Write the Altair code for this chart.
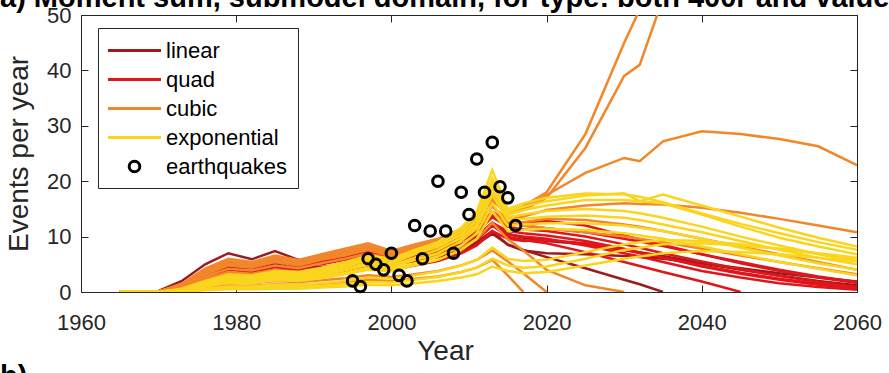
import altair as alt
import pandas as pd

FONT = "Liberation Sans"
AXC = "#262626"

YEARS = [1965, 1970, 1973, 1976, 1979, 1982, 1985, 1988, 1991, 1994, 1997, 2000, 2003,
         2006, 2009, 2011, 2013, 2015, 2017, 2020, 2025, 2030, 2032, 2035, 2040, 2045,
         2050, 2055, 2060]

LINEAR = [
    [0, 0.2, 2.0, 5.0, 7.0, 5.9, 7.4, 5.8, 5.4, 5.8, 6.2, 5.5, 6.0, 6.8, 7.8, 9.0, 11.0, 8.5, 7.5, 7.0, 6.8, 6.5, 6.3, 6.0, 5.2, 4.3, 3.4, 2.6, 1.9],
    [0, 0.1, 1.2, 3.5, 5.2, 4.6, 5.6, 4.6, 4.5, 5.0, 5.6, 5.0, 5.6, 6.3, 7.5, 8.6, 10.5, 8.6, 7.6, 6.3, 4.3, 2.2, 1.4, 0],
    [0, 0.1, 1.0, 3.0, 4.5, 4.0, 5.0, 4.2, 4.4, 5.2, 6.0, 5.4, 6.2, 7.2, 8.6, 10.0, 12.5, 10.5, 9.8, 9.2, 8.6, 7.6, 7.2, 6.5, 5.2, 4.0, 3.0, 2.0, 1.2],
]
QUAD = [
    [0, 0.1, 1.3, 3.8, 5.5, 5.0, 6.0, 5.2, 5.6, 6.4, 7.2, 6.2, 7.2, 8.2, 10.0, 11.5, 14.5, 12.5, 12.0, 11.5, 10.8, 9.6, 9.1, 8.3, 6.8, 5.4, 4.0, 2.8, 1.8],
    [0, 0.1, 1.0, 3.2, 4.8, 4.4, 5.4, 4.8, 5.0, 5.8, 6.6, 5.8, 6.6, 7.6, 9.2, 10.8, 13.5, 11.8, 11.3, 11.0, 10.0, 8.6, 8.0, 7.0, 5.5, 4.1, 2.9, 1.8, 0.9],
    [0, 0.1, 0.8, 2.6, 4.0, 3.6, 4.5, 4.0, 4.4, 5.0, 5.8, 5.2, 6.0, 7.0, 8.5, 10.0, 12.5, 11.0, 10.6, 10.2, 9.2, 7.8, 7.1, 6.2, 4.6, 3.3, 2.2, 1.3, 0.6],
    [0, 0.1, 0.7, 2.2, 3.4, 3.2, 4.0, 3.6, 4.0, 4.6, 5.4, 4.8, 5.6, 6.5, 8.0, 9.4, 12.0, 10.4, 10.0, 9.6, 8.4, 7.0, 6.4, 5.4, 3.8, 2.6, 1.6, 0.9, 0.4],
    [0, 0.1, 0.9, 2.8, 4.2, 3.8, 4.6, 4.0, 4.2, 4.8, 5.6, 5.0, 5.8, 6.8, 8.2, 9.6, 12.0, 10.0, 9.4, 8.8, 7.2, 5.4, 4.7, 3.6, 1.9, 0],
    [0, 0.1, 0.5, 1.6, 2.6, 2.4, 3.0, 2.8, 3.2, 3.8, 4.5, 4.0, 4.8, 5.6, 7.0, 8.4, 11.0, 9.6, 9.2, 9.4, 8.8, 7.6, 7.0, 6.2, 4.8, 3.5, 2.4, 1.5, 0.8],
    [0, 0.1, 1.1, 3.4, 5.0, 4.6, 5.6, 5.0, 5.4, 6.2, 7.0, 6.0, 7.0, 8.0, 9.8, 11.2, 14.0, 12.0, 12.5, 12.8, 12.0, 10.2, 9.5, 8.5, 6.8, 5.2, 3.8, 2.6, 1.6],
]
CUBIC = [
    [0, 0.1, 1.5, 4.2, 6.0, 5.4, 6.6, 5.8, 6.8, 7.8, 8.8, 7.4, 8.6, 9.6, 11.4, 13.4, 17.5, 14.5, 15.5, 18.0, 28.5, 45.0, 51.0, 62.0],
    [0, 0.1, 1.3, 3.8, 5.6, 5.0, 6.2, 5.5, 6.5, 7.4, 8.4, 7.0, 8.2, 9.2, 11.0, 13.0, 17.0, 14.0, 14.8, 17.0, 26.0, 39.0, 41.0, 53.0],
    [0, 0.1, 1.2, 3.6, 5.2, 4.8, 5.8, 5.2, 6.2, 7.2, 8.2, 6.8, 8.0, 9.0, 10.8, 12.8, 16.5, 14.0, 15.0, 17.5, 21.5, 24.2, 23.6, 27.2, 29.0, 28.5, 27.6, 26.3, 22.9],
    [0, 0.1, 1.0, 3.2, 4.8, 4.4, 5.4, 4.8, 5.8, 6.6, 7.6, 6.4, 7.4, 8.4, 10.2, 12.0, 15.5, 13.0, 13.6, 14.8, 15.6, 16.0, 15.9, 15.8, 15.2, 14.3, 13.2, 12.0, 10.8],
    [0, 0, 0.3, 0.8, 1.2, 1.1, 1.4, 1.3, 1.5, 1.8, 2.2, 2.0, 2.4, 2.8, 3.6, 4.4, 5.8, 3.0, 0],
    [0, 0, 0.4, 1.2, 1.8, 1.6, 2.0, 1.8, 2.1, 2.5, 3.0, 2.7, 3.2, 3.8, 4.8, 5.8, 7.5, 5.5, 3.4, 0],
    [0, 0.1, 0.8, 2.4, 3.6, 3.3, 4.0, 3.6, 4.2, 4.9, 5.6, 5.0, 5.8, 6.6, 8.0, 9.5, 12.5, 9.5, 7.5, 4.0, 1.2, 0],
    [0, 0.1, 1.1, 3.4, 5.0, 4.6, 5.6, 5.0, 6.0, 7.0, 8.0, 6.6, 7.6, 8.8, 10.4, 12.2, 15.5, 12.5, 12.0, 11.5, 10.8, 10.0, 9.6, 9.0, 7.8, 6.6, 5.4, 4.3, 3.2],
    [0, 0.1, 0.9, 2.8, 4.2, 3.9, 4.8, 4.3, 5.2, 6.0, 7.0, 5.9, 6.9, 8.0, 9.6, 11.2, 14.5, 12.0, 12.6, 13.2, 13.0, 12.2, 11.8, 11.0, 9.6, 8.2, 6.8, 5.4, 4.0],
]
EXPO = [
    [0, 0, 0.6, 2.0, 3.2, 3.0, 3.8, 3.6, 4.4, 5.4, 6.6, 6.0, 7.6, 9.0, 11.6, 14.5, 22.0, 15.0, 16.0, 17.0, 17.8, 17.6, 17.2, 16.2, 14.2, 12.3, 10.6, 9.0, 7.6],
    [0, 0, 0.5, 1.8, 2.9, 2.8, 3.5, 3.3, 4.1, 5.0, 6.2, 5.6, 7.2, 8.6, 11.0, 13.8, 20.5, 14.5, 15.4, 16.4, 17.4, 17.8, 16.4, 17.6, 15.6, 13.6, 11.6, 9.8, 8.2],
    [0, 0, 0.5, 1.6, 2.6, 2.5, 3.2, 3.0, 3.8, 4.6, 5.8, 5.2, 6.8, 8.2, 10.4, 13.0, 19.5, 14.0, 14.8, 15.6, 16.6, 16.6, 16.4, 16.0, 14.0, 11.8, 9.8, 8.2, 6.8],
    [0, 0, 0.4, 1.4, 2.3, 2.2, 2.9, 2.7, 3.4, 4.2, 5.3, 4.8, 6.2, 7.6, 9.8, 12.2, 18.5, 13.5, 14.0, 14.6, 15.0, 14.6, 14.2, 13.4, 11.8, 10.0, 8.4, 6.8, 5.6],
    [0, 0, 0.4, 1.3, 2.1, 2.0, 2.6, 2.5, 3.1, 3.9, 4.9, 4.4, 5.8, 7.0, 9.2, 11.6, 17.5, 13.0, 13.2, 13.6, 13.8, 13.4, 13.0, 12.2, 10.8, 9.2, 7.6, 6.2, 5.0],
    [0, 0, 0.3, 1.1, 1.8, 1.8, 2.3, 2.2, 2.8, 3.5, 4.4, 4.0, 5.2, 6.4, 8.4, 10.6, 16.0, 12.0, 12.2, 12.4, 12.4, 12.0, 11.6, 11.0, 9.6, 8.0, 6.6, 5.2, 4.0],
    [0, 0, 0.3, 1.0, 1.6, 1.6, 2.1, 2.0, 2.5, 3.2, 4.0, 3.7, 4.8, 5.8, 7.6, 9.6, 14.5, 11.0, 11.2, 11.4, 11.2, 10.6, 10.2, 9.6, 8.2, 6.8, 5.4, 4.2, 3.0],
    [0, 0, 0.2, 0.6, 1.0, 1.0, 1.3, 1.3, 1.6, 2.0, 2.6, 2.4, 3.0, 3.7, 4.8, 5.8, 8.0, 6.0, 5.6, 5.8, 7.2, 8.6, 9.0, 9.4, 9.2, 8.6, 7.8, 6.9, 6.0],
    [0, 0, 0.1, 0.4, 0.7, 0.7, 0.9, 0.9, 1.1, 1.4, 1.8, 1.7, 2.2, 2.7, 3.6, 4.4, 6.0, 4.8, 4.4, 4.6, 6.0, 7.6, 8.0, 8.6, 8.8, 8.4, 7.8, 7.0, 6.2],
    [0, 0, 0.1, 0.3, 0.5, 0.5, 0.6, 0.6, 0.8, 1.0, 1.3, 1.2, 1.6, 2.0, 2.6, 3.2, 4.6, 3.8, 3.4, 3.6, 4.8, 6.0, 6.4, 7.0, 7.4, 7.2, 6.8, 6.2, 5.5],
]

EQ_YEARS = [1995, 1996, 1997, 1998, 1999, 2000, 2001, 2002, 2003, 2004, 2005,
            2006, 2007, 2008, 2009, 2010, 2011, 2012, 2013, 2014, 2015, 2016]
EQ_COUNTS = [2, 1, 6, 5, 4, 7, 3, 2, 12, 6, 11, 20, 11, 7, 18, 14, 24, 18, 27, 19, 17, 12]

TYPES = ["linear", "quad", "cubic", "exponential", "earthquakes"]
COLORS = ["#9B1B1E", "#E0161B", "#F2862A", "#FAD51E", "#000000"]
X_TICKS = [1960, 1980, 2000, 2020, 2040, 2060]
Y_TICKS = [0, 10, 20, 30, 40, 50]
TITLE_A = "a)  Moment sum, submodel domain, for type: both 400r and value"
TITLE_B = "b)"

LINE_PATH = "M-2.5,0H2.5"
CIRCLE_PATH = "M-0.5,0A0.5,0.5,0,1,0,0.5,0A0.5,0.5,0,1,0,-0.5,0Z"
SYM = 450

rows = []
cid = 0
for tname, group in [("linear", LINEAR), ("quad", QUAD), ("cubic", CUBIC), ("exponential", EXPO)]:
    for curve in group:
        for yr, v in zip(YEARS, curve):
            rows.append({"year": yr, "rate": v, "type": tname, "curve": cid})
        cid += 1
lines_df = pd.DataFrame(rows)
eq_df = pd.DataFrame({"year": EQ_YEARS, "count": EQ_COUNTS, "type": "earthquakes"})

xs = alt.Scale(domain=[1960, 2060], nice=False, zero=False)
ys = alt.Scale(domain=[0, 50], nice=False)
color_scale = alt.Scale(domain=TYPES, range=COLORS)
shape_scale = alt.Scale(domain=TYPES, range=[LINE_PATH] * 4 + [CIRCLE_PATH])

legend = alt.Legend(title=None, orient="none", legendX=17, legendY=13, direction="vertical",
                    strokeColor=AXC, fillColor="white", padding=10, labelFontSize=22,
                    labelFont=FONT, labelColor="black", symbolStrokeWidth=3, symbolSize=SYM,
                    rowPadding=5, symbolOffset=14, labelOffset=19, cornerRadius=0)

x_main = alt.Axis(values=X_TICKS, format="d", labelFontSize=22, labelPadding=20, ticks=False,
                  tickSize=0, domain=False, grid=False, title="Year", titleFontSize=28,
                  titleFontWeight="normal", titlePadding=4, titleX=364, titleAnchor="start",
                  titleAlign="center", labelColor=AXC, titleColor=AXC,
                  labelFont=FONT, titleFont=FONT, labelFlush=False, labelOverlap=False, orient="bottom")
y_main = alt.Axis(values=Y_TICKS, labelFontSize=22, labelPadding=10, ticks=False, tickSize=0,
                  domain=False, grid=False, title="Events per year", titleFontSize=28,
                  titleFontWeight="normal", titlePadding=13, labelColor=AXC, titleColor=AXC,
                  labelFont=FONT, titleFont=FONT, labelFlush=False, labelOverlap=False, orient="left")


def tick_axis(orient, vals):
    return alt.Axis(orient=orient, values=vals, labels=False, domain=False, grid=False, ticks=True,
                    tickSize=7, tickColor=AXC, tickWidth=1, offset=-7, title=None)


lines = alt.Chart(lines_df).mark_line(clip=True, strokeWidth=2.5).encode(
    x=alt.X("year:Q", scale=xs, axis=x_main),
    y=alt.Y("rate:Q", scale=ys, axis=y_main),
    color=alt.Color("type:N", scale=color_scale, legend=legend),
    detail="curve:N",
)

points = alt.Chart(eq_df).mark_point(filled=False, size=SYM, strokeWidth=3, opacity=1).encode(
    x=alt.X("year:Q", scale=xs, axis=tick_axis("bottom", X_TICKS)),
    y=alt.Y("count:Q", scale=ys, axis=tick_axis("left", Y_TICKS)),
    color=alt.Color("type:N", scale=color_scale, legend=legend),
    shape=alt.Shape("type:N", scale=shape_scale, legend=legend),
)

ghost = alt.Chart(eq_df).mark_point(opacity=0).encode(
    x=alt.X("year:Q", scale=xs, axis=tick_axis("top", X_TICKS)),
    y=alt.Y("count:Q", scale=ys, axis=tick_axis("right", Y_TICKS)),
)

title_a = alt.Chart(pd.DataFrame({"t": [TITLE_A]})).mark_text(
    align="left", baseline="alphabetic", fontSize=29, fontWeight="bold", font=FONT, color="black"
).encode(x=alt.value(-81), y=alt.value(-8), text="t:N")

title_b = alt.Chart(pd.DataFrame({"t": [TITLE_B]})).mark_text(
    align="left", baseline="alphabetic", fontSize=29, fontWeight="bold", font=FONT, color="black"
).encode(x=alt.value(-81), y=alt.value(371), text="t:N")

chart = alt.layer(lines, points, ghost, title_a, title_b).resolve_axis(
    x="independent", y="independent"
).properties(
    width=776, height=277,
    autosize=alt.AutoSizeParams(type="none"),
    padding={"left": 81, "top": 15, "right": 32, "bottom": 81},
    background="white",
).configure_view(stroke=AXC, strokeWidth=1)

chart.save("out.html", embed_options={"renderer": "svg", "actions": False})
